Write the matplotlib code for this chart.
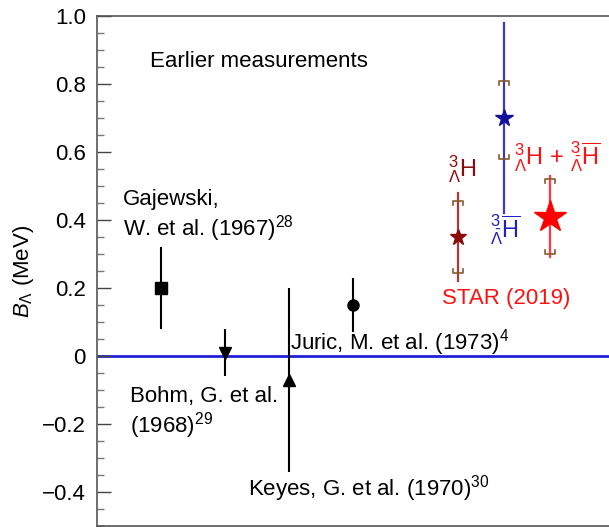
import numpy as np
import matplotlib
matplotlib.use("Agg")
import matplotlib.pyplot as plt
from matplotlib.ticker import MultipleLocator

plt.rcParams['font.family'] = ['Liberation Sans', 'DejaVu Sans']
plt.rcParams['mathtext.fontset'] = 'custom'
plt.rcParams['mathtext.rm'] = 'Liberation Sans'
plt.rcParams['mathtext.it'] = 'Liberation Sans:italic'
plt.rcParams['mathtext.bf'] = 'Liberation Sans:bold'

# earlier measurements: x slot, value, lower/upper error
old_x = [1.25, 2.5, 3.75, 5.0]
old_y = [0.20, 0.01, -0.07, 0.15]
old_lo = [0.12, 0.07, 0.27, 0.08]
old_hi = [0.12, 0.07, 0.27, 0.08]
old_markers = ['s', 'v', '^', 'o']

# STAR (2019): hypertriton, antihypertriton, combined
star_x = [7.05, 7.95, 8.85]
star_y = [0.35, 0.70, 0.41]
star_stat = [0.13, 0.28, 0.12]
star_sys_lo = [0.245, 0.58, 0.30]
star_sys_hi = [0.455, 0.81, 0.52]
star_colors = ['#8b0a0a', '#10109a', '#ff0000']
bar_colors = ['#a83a3a', '#3a3ac8', '#ff3a3a']
star_sizes = [12, 13, 24]
sys_color = '#8b5a2b'

fig = plt.figure(figsize=(6.09, 5.27), dpi=100)
ax = fig.add_axes([97 / 609, 1 / 527, 1 - 97 / 609, 510 / 527])

ax.axhline(0, color='#2020d8', lw=2, zorder=1)

for x, y, lo, hi, m in zip(old_x, old_y, old_lo, old_hi, old_markers):
    ax.errorbar(x, y, yerr=[[lo], [hi]], fmt=m, color='black', ms=8,
                elinewidth=1.5, capsize=0, zorder=3)

hw = 0.1
for i in range(3):
    x = star_x[i]
    ax.plot([x, x], [star_y[i] - star_stat[i], star_y[i] + star_stat[i]],
            color=bar_colors[i], lw=1.6, zorder=2)
    ax.plot(x, star_y[i], marker='*', color=star_colors[i],
            ms=star_sizes[i], ls='none', zorder=4)
    # systematic brackets
    for ys, d in ((star_sys_lo[i], 0.012), (star_sys_hi[i], -0.012)):
        ax.plot([x - hw, x - hw, x + hw, x + hw], [ys + d, ys, ys, ys + d],
                color=sys_color, lw=1.2, zorder=3)

ax.set_xlim(0, 10)
ax.set_ylim(-0.5, 1.0)
ax.set_xticks([])
ax.yaxis.set_major_locator(MultipleLocator(0.2))
ax.yaxis.set_minor_locator(MultipleLocator(0.05))
ax.set_yticks([-0.4, -0.2, 0, 0.2, 0.4, 0.6, 0.8, 1.0])
ax.set_yticklabels(['\u22120.4', '\u22120.2', '0', '0.2', '0.4', '0.6', '0.8', '1.0'])
ax.tick_params(axis='y', which='major', direction='in', length=10, width=1,
               labelsize=16, pad=8, color='#444444')
ax.tick_params(axis='y', which='minor', direction='in', length=5, width=1,
               color='#777777')
ax.spines['right'].set_visible(False)
for s in ('left', 'top', 'bottom'):
    ax.spines[s].set_color('#555555')
    ax.spines[s].set_linewidth(1.2)

ax.set_ylabel(r'$B_{\Lambda}$ (MeV)', fontsize=16, labelpad=4)

fs = 16
ax.text(1.03, 0.865, 'Earlier measurements', fontsize=fs, va='center')
ax.text(0.5, 0.41, 'Gajewski,\nW. et al. (1967)$^{28}$', fontsize=fs,
        va='center', linespacing=1.15)
ax.text(0.65, -0.17, 'Bohm, G. et al.\n(1968)$^{29}$', fontsize=fs,
        va='center', linespacing=1.15)
ax.text(2.95, -0.39, 'Keyes, G. et al. (1970)$^{30}$', fontsize=fs, va='center')
ax.text(3.77, 0.04, 'Juric, M. et al. (1973)$^{4}$', fontsize=fs, va='center')

ax.text(7.13, 0.55, r'${}^{3}_{\Lambda}\mathrm{H}$', fontsize=17,
        color=star_colors[0], ha='center', va='center')
ax.text(8.99, 0.585, r'${}^{3}_{\Lambda}\mathrm{H}$ + ${}^{3}_{\bar{\Lambda}}\overline{\mathrm{H}}$',
        fontsize=17, color='#ff1010', ha='center', va='center')
ax.text(7.97, 0.37, r'${}^{3}_{\bar{\Lambda}}\overline{\mathrm{H}}$', fontsize=17,
        color='#2020c0', ha='center', va='center')
ax.text(8.0, 0.17, 'STAR (2019)', fontsize=16, color='#ff1010',
        ha='center', va='center')

fig.savefig('out.png', dpi=100)
